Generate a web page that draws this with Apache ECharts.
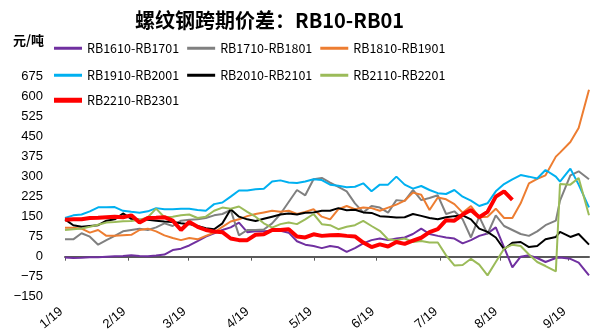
<!DOCTYPE html>
<html><head><meta charset="utf-8">
<script src="https://cdn.jsdelivr.net/npm/echarts@6/dist/echarts.min.js"></script>
<style>html,body{margin:0;padding:0;background:#fff}#c{width:606px;height:335px}</style>
</head><body><div id="c"></div>
<script>
const titleText = '螺纹钢跨期价差：RB10-RB01';
const unitText = '元/吨';
// x positions (days since 1/19, sampled)
const days = [0,4,8,12,16,20,24,28,32,36,40,44,48,52,56,60,64,68,72,76,80,84,88,92,96,100,104,108,112,116,120,124,128,132,136,140,144,148,152,156,160,164,168,172,176,180,184,188,192,196,200,204,208,212,216,220,224,228,232,237,239,244,248,253];
const tickDays = [0, 30.5, 59.5, 90, 120.5, 150.5, 181, 210, 243];
const tickLabels = ['1/19','2/19','3/19','4/19','5/19','6/19','7/19','8/19','9/19'];
const seriesNames = ['RB1610-RB1701','RB1710-RB1801','RB1810-RB1901','RB1910-RB2001','RB2010-RB2101','RB2110-RB2201','RB2210-RB2301'];
const seriesColors = ['#7030A0','#808080','#ED7D31','#00B0F0','#000000','#9BBB59','#FF0000'];

const rb1610 = [-3,-5,-4,-2,-2,0,2,3,5,3,2,4,8,25,30,42,58,75,88,100,110,128,92,95,95,97,97,90,58,45,40,32,40,35,18,32,50,62,68,62,68,72,85,105,85,78,72,68,50,62,78,87,110,35,-40,0,5,-5,-20,-5,-3,-8,-22,-70];
const rb1710 = [65,65,88,75,45,62,78,95,100,105,100,110,125,115,135,138,140,145,155,160,175,80,100,100,102,125,160,205,250,230,290,295,278,262,245,200,166,190,184,165,212,209,250,212,220,230,160,170,140,72,150,85,155,115,100,85,78,95,118,135,210,305,320,290];
const rb1810 = [108,108,105,90,100,78,78,80,82,100,105,95,80,70,62,70,65,78,90,112,132,140,152,160,166,172,168,172,160,168,178,150,140,178,190,178,184,182,172,184,195,210,240,232,175,222,215,197,165,190,148,150,180,145,145,200,275,292,305,375,390,430,482,626];
const rb1910 = [145,155,158,170,185,185,186,172,168,165,170,182,178,178,180,180,175,172,197,203,225,248,248,253,255,282,286,278,276,282,290,287,270,266,260,262,275,245,270,270,300,270,255,265,250,238,235,250,225,210,190,200,245,272,290,306,300,293,325,300,281,330,270,185];
const rb2010 = [140,118,112,115,118,135,140,162,142,138,138,135,132,130,125,122,115,107,103,125,178,150,140,134,142,150,158,162,158,165,166,172,172,182,174,176,166,164,152,150,147,148,160,153,145,140,148,152,155,140,105,93,72,28,52,55,36,40,65,74,93,74,85,45];
const rb2110 = [100,103,106,112,120,128,130,133,134,138,148,180,148,150,155,158,145,150,172,184,180,188,168,150,125,109,122,128,122,140,160,122,118,103,112,118,134,115,97,65,62,68,55,59,53,53,5,-33,-31,-8,-30,-70,-20,30,45,40,8,-20,-35,-55,272,270,295,155];
const rb2210 = [138,140,140,145,146,148,150,148,155,128,145,146,148,135,100,130,112,100,94,92,68,62,62,82,84,100,100,103,76,72,84,78,80,81,78,76,53,36,46,38,55,48,60,71,92,103,137,135,158,175,148,168,225,245,213];

const allValues = [rb1610, rb1710, rb1810, rb1910, rb2010, rb2110, rb2210];

const chart = echarts.init(document.getElementById('c'), null, {renderer: 'canvas'});
const legendText = {fontSize: 12.5, fontFamily: 'Noto Sans CJK SC', color: '#000'};
const legendBase = {left: 54, itemWidth: 28, itemHeight: 3, itemGap: 8, icon: 'rect', selectedMode: false, padding: 0, textStyle: legendText};

chart.setOption({
  animation: false,
  backgroundColor: '#fff',
  title: [
    {text: titleText, left: 135, top: 10, padding: 0,
     textStyle: {fontSize: 20, fontWeight: 'bold', fontFamily: 'Noto Sans CJK SC', color: '#000'}},
    {text: unitText, left: 13, top: 34, padding: 0,
     textStyle: {fontSize: 13, fontWeight: 'bold', fontFamily: 'Noto Sans CJK SC', color: '#000'}}
  ],
  legend: [
    Object.assign({}, legendBase, {top: 42, data: seriesNames.slice(0, 3)}),
    Object.assign({}, legendBase, {top: 69, data: seriesNames.slice(3, 6)}),
    Object.assign({}, legendBase, {top: 94, itemHeight: 5, data: seriesNames.slice(6)})
  ],
  grid: {left: 65, right: 17, top: 76.6, bottom: 38.3, containLabel: false},
  xAxis: [
    {type: 'value', min: 0, max: 253, position: 'bottom',
     axisLine: {show: true, onZero: true, lineStyle: {color: '#595959', width: 2}},
     axisTick: {show: true, customValues: tickDays, length: 4, lineStyle: {color: '#595959', width: 1}},
     axisLabel: {show: false}, splitLine: {show: false}},
    {type: 'value', min: 0, max: 253, position: 'bottom',
     axisLine: {show: false, onZero: false}, axisTick: {show: false}, splitLine: {show: false},
     axisLabel: {show: true, customValues: tickDays, rotate: 40, margin: 10, fontSize: 13,
       padding: [0, 5, 0, 0],
       fontFamily: 'Liberation Sans', color: '#000',
       formatter: function (v) { const k = tickDays.indexOf(v); return k >= 0 ? tickLabels[k] : ''; }}}
  ],
  yAxis: {type: 'value', min: -150, max: 675, interval: 75,
    axisLine: {show: false}, axisTick: {show: false}, splitLine: {show: false},
    axisLabel: {margin: 22, fontSize: 13, fontFamily: 'Liberation Sans', color: '#000',
      formatter: function (v) { return String(v).replace('-', '\u2212'); }}},
  series: seriesNames.map(function (name, k) {
    return {
      name: name, type: 'line', xAxisIndex: 0, showSymbol: false, symbol: 'none',
      color: seriesColors[k],
      lineStyle: {width: k === 6 ? 4 : 2, color: seriesColors[k]},
      data: allValues[k].map(function (v, i) { return [days[i], v]; })
    };
  })
});
</script>
</body></html>
